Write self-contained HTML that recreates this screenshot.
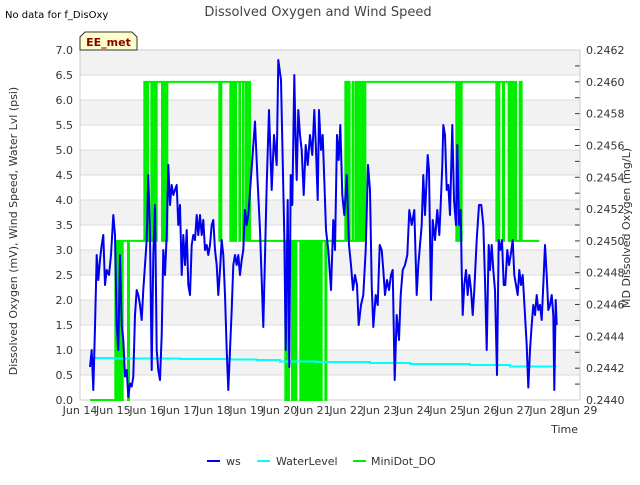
<!DOCTYPE html>
<html><head><meta charset="utf-8"><style>
body{margin:0;background:#fff;font-family:"Liberation Sans",sans-serif;}
svg text{font-family:"DejaVu Sans","Liberation Sans",sans-serif;}
</style></head><body>
<svg id="chart" width="640" height="480" viewBox="0 0 640 480" xmlns="http://www.w3.org/2000/svg">
<text x="5" y="18" font-size="10" fill="#000">No data for f_DisOxy</text>
<text x="318" y="16" font-size="13" fill="#444" text-anchor="middle">Dissolved Oxygen and Wind Speed</text>
<g id="plot"></g>
<g>
<path d="M80,50 L80,37 L85,32 L132,32 L137,37 L137,50 Z" fill="#ffffcc" stroke="#333" stroke-width="1"/>
<text x="108.5" y="46" font-size="11" font-weight="bold" fill="#8b0000" text-anchor="middle">EE_met</text>
</g>
<text transform="translate(17,231) rotate(-90)" font-size="11" fill="#333" text-anchor="middle">Dissolved Oxygen (mV), Wind Speed, Water Lvl (psi)</text>
<text transform="translate(630,228) rotate(-90)" font-size="11" fill="#333" text-anchor="middle">MD Dissolved Oxygen (mg/L)</text>
<text x="578" y="433" font-size="11" fill="#333" text-anchor="end">Time</text>
<g>
<g><line x1="207" y1="461" x2="220" y2="461" stroke="#0000ee" stroke-width="2"/><text x="226" y="465" font-size="11" fill="#333">ws</text></g>
<g><line x1="257" y1="461" x2="270" y2="461" stroke="#00ffff" stroke-width="2"/><text x="276" y="465" font-size="11" fill="#333">WaterLevel</text></g>
<g><line x1="353" y1="461" x2="366" y2="461" stroke="#00ee00" stroke-width="2"/><text x="371" y="465" font-size="11" fill="#333">MiniDot_DO</text></g>
</g>
</svg>
<script>
const xTickLabels=["Jun 14","Jun 15","Jun 16","Jun 17","Jun 18","Jun 19","Jun 20","Jun 21","Jun 22","Jun 23","Jun 24","Jun 25","Jun 26","Jun 27","Jun 28","Jun 29"];
const yLeftTicks=[0,0.5,1,1.5,2,2.5,3,3.5,4,4.5,5,5.5,6,6.5,7];
const yRightTicks=[0.2440,0.2442,0.2444,0.2446,0.2448,0.2450,0.2452,0.2454,0.2456,0.2458,0.2460,0.2462];
const wsT=[0.30,0.35,0.40,0.45,0.50,0.55,0.60,0.65,0.70,0.75,0.80,0.87,0.93,1.00,1.05,1.10,1.15,1.20,1.25,1.30,1.35,1.40,1.45,1.50,1.55,1.60,1.65,1.70,1.75,1.80,1.85,1.90,1.95,2.00,2.05,2.10,2.15,2.20,2.25,2.30,2.35,2.40,2.45,2.50,2.55,2.60,2.65,2.70,2.75,2.80,2.85,2.90,2.95,3.00,3.05,3.10,3.15,3.20,3.25,3.30,3.35,3.40,3.45,3.50,3.55,3.60,3.65,3.70,3.75,3.80,3.85,3.90,3.95,4.00,4.05,4.10,4.15,4.20,4.25,4.30,4.35,4.40,4.45,4.50,4.55,4.60,4.65,4.70,4.75,4.80,4.85,4.90,4.95,5.00,
5.05,5.25,5.32,5.40,5.50,5.60,5.67,5.75,5.82,5.90,5.95,6.03,6.08,6.13,6.17,6.23,6.28,6.32,6.37,6.43,6.47,6.50,6.55,6.60,6.65,6.71,6.77,6.83,6.90,6.97,7.03,7.08,7.13,7.17,7.23,7.28,7.33,7.38,7.45,7.53,7.60,7.65,7.71,7.76,7.81,7.87,7.93,8.00,8.07,8.13,8.19,8.25,8.31,8.36,8.43,8.50,8.57,8.64,8.70,8.75,8.80,8.87,8.93,8.99,9.05,9.10,9.15,9.21,9.27,9.33,9.38,9.44,9.50,9.57,9.62,9.68,9.75,9.82,9.88,9.95,
10.03,10.10,10.15,10.20,10.25,10.30,10.35,10.43,10.47,10.53,10.58,10.65,10.72,10.78,10.82,10.87,10.90,10.95,11.00,11.05,11.10,11.17,11.22,11.28,11.32,11.37,11.42,11.45,11.48,11.53,11.58,11.63,11.68,11.73,11.78,11.83,11.90,11.97,12.04,12.10,12.15,12.20,12.26,12.30,12.35,12.40,12.45,12.51,12.56,12.61,12.66,12.71,12.76,12.82,12.87,12.92,12.98,13.03,13.08,13.13,13.18,13.23,13.28,13.35,13.40,13.45,13.50,13.55,13.60,13.65,13.70,13.75,13.80,13.85,13.90,13.95,14.00,14.05,14.10,14.15,14.20,14.23,14.27,14.30];
const wsV=[0.66,1.0,0.2,1.46,2.9,2.4,2.8,3.1,3.3,2.3,2.6,2.5,2.9,3.7,3.3,1.5,1.0,2.9,1.5,1.2,0.47,0.6,0.06,0.33,0.27,0.47,1.7,2.2,2.1,1.9,1.6,2.2,2.7,3.2,4.5,3.3,0.6,2.9,3.9,1.0,0.6,0.4,1.3,3.0,2.5,3.3,4.7,3.9,4.3,4.1,4.2,4.3,3.5,3.9,2.5,3.3,2.7,3.4,2.3,2.1,3.1,3.3,3.2,3.7,3.3,3.7,3.3,3.6,3.0,3.1,2.9,3.1,3.5,3.6,3.0,2.7,2.1,2.6,3.2,2.9,2.1,1.0,0.2,1.0,1.8,2.7,2.9,2.7,2.9,2.5,2.8,3.0,3.8,3.5,
3.7,5.57,4.5,3.4,1.46,4.3,5.8,4.2,5.3,4.7,6.8,6.4,4.8,3.3,1.0,4.0,0.66,4.5,3.9,6.5,5.1,4.4,5.8,5.3,5.0,4.1,5.1,4.7,5.3,4.9,5.8,5.0,4.0,5.8,5.0,5.3,4.4,3.4,3.0,2.2,3.6,3.0,5.3,4.8,5.5,4.1,3.7,4.5,3.1,2.7,2.2,2.5,2.3,1.5,1.9,2.1,3.0,4.7,4.2,2.3,1.46,2.1,1.9,3.1,3.0,2.6,2.1,2.4,2.2,2.5,2.6,0.4,1.7,1.2,2.1,2.6,2.7,2.9,3.8,3.5,
3.8,2.1,2.7,3.1,3.5,4.5,3.7,4.9,4.6,2.0,3.6,3.2,3.8,3.3,3.9,4.7,5.5,5.3,4.2,4.3,3.7,5.5,4.0,3.5,5.1,3.5,3.8,2.6,1.7,2.3,2.6,2.1,2.5,2.2,1.7,2.2,3.2,3.9,3.9,3.5,2.4,1.0,3.1,2.6,3.1,2.6,2.2,0.5,3.2,3.0,3.2,2.3,2.3,3.0,2.7,2.9,3.2,2.5,2.3,2.1,2.6,2.3,2.5,1.7,1.1,0.25,1.0,1.5,1.9,1.7,2.1,1.8,1.9,1.6,2.3,3.1,2.5,1.8,1.9,2.1,1.7,0.2,2.0,1.5];
const wlT=[0.3,1.0,1.5,3.0,4.5,5.3,6.0,7.1,8.7,9.9,11.7,12.9,14.3];
const wlV=[0.84,0.83,0.83,0.82,0.81,0.80,0.77,0.76,0.74,0.72,0.70,0.67,0.67];
const doT=[0.3,1.05,1.06,1.08,1.10,1.12,1.15,1.17,1.20,1.22,1.26,1.28,1.43,1.44,1.46,1.47,1.92,1.93,1.96,1.98,2.02,2.04,2.13,2.14,2.16,2.20,2.23,2.28,2.30,2.45,2.46,2.50,2.53,2.57,2.60,2.62,4.17,4.18,4.23,4.24,4.50,4.51,4.55,4.59,4.62,4.64,4.68,4.77,4.78,4.80,4.88,4.89,4.91,4.97,4.98,5.00,5.05,5.08,5.10,6.15,6.16,6.20,6.23,6.27,6.35,6.36,6.40,6.43,6.49,6.60,6.61,6.65,6.68,6.72,6.75,6.80,6.83,6.86,6.88,6.90,6.93,6.97,7.00,7.04,7.08,7.12,7.17,7.19,7.23,7.25,7.35,7.36,7.39,7.95,7.96,8.00,8.06,8.09,8.18,8.21,8.28,8.30,8.32,8.35,8.38,8.40,8.43,8.45,8.48,8.50,8.52,8.55,8.56,11.28,11.29,11.31,11.33,11.35,11.37,11.40,11.42,11.45,12.48,12.49,12.52,12.55,12.58,12.68,12.69,12.72,12.85,12.86,12.88,12.92,12.95,12.98,13.00,13.04,13.06,13.08,13.18,13.19,13.24,13.25,13.78];
const doV=[0.2440,0.2440,0.2450,0.2440,0.2450,0.2440,0.2450,0.2440,0.2450,0.2440,0.2440,0.2450,0.2450,0.2440,0.2440,0.2450,0.2450,0.2460,0.2450,0.2460,0.2450,0.2460,0.2460,0.2450,0.2460,0.2450,0.2460,0.2450,0.2460,0.2460,0.2450,0.2460,0.2450,0.2460,0.2450,0.2460,0.2460,0.2450,0.2450,0.2460,0.2460,0.2450,0.2460,0.2450,0.2460,0.2450,0.2460,0.2460,0.2450,0.2460,0.2460,0.2450,0.2460,0.2460,0.2450,0.2460,0.2450,0.2460,0.2450,0.2450,0.2440,0.2450,0.2440,0.2450,0.2450,0.2440,0.2450,0.2440,0.2450,0.2450,0.2440,0.2450,0.2440,0.2450,0.2440,0.2450,0.2440,0.2450,0.2440,0.2450,0.2440,0.2450,0.2440,0.2450,0.2440,0.2450,0.2440,0.2450,0.2440,0.2450,0.2450,0.2440,0.2450,0.2450,0.2460,0.2450,0.2460,0.2450,0.2460,0.2450,0.2460,0.2450,0.2460,0.2450,0.2460,0.2450,0.2460,0.2450,0.2460,0.2450,0.2460,0.2450,0.2460,0.2460,0.2450,0.2460,0.2450,0.2460,0.2450,0.2460,0.2450,0.2460,0.2460,0.2450,0.2460,0.2450,0.2460,0.2460,0.2450,0.2460,0.2460,0.2450,0.2460,0.2450,0.2460,0.2450,0.2460,0.2450,0.2460,0.2450,0.2450,0.2460,0.2460,0.2450,0.2450];

const L=80,R=580,T=50,B=400;
const xS=d=>L+d*(R-L)/15;
const yL=v=>B-v*(B-T)/7;
const yR=v=>B-(v-0.2440)*(B-T)/0.0022;
const NS="http://www.w3.org/2000/svg";
const plot=document.getElementById('plot');
function mk(tag,attrs,parent){const e=document.createElementNS(NS,tag);for(const k in attrs)e.setAttribute(k,attrs[k]);(parent||plot).appendChild(e);return e;}

mk('rect',{x:L,y:T,width:R-L,height:B-T,fill:'#fff'});
for(let i=0;i<yLeftTicks.length-1;i++){
  if(i%2===1){const b=mk('rect',{x:L,y:yL(yLeftTicks[i+1]),width:R-L,height:yL(yLeftTicks[i])-yL(yLeftTicks[i+1]),fill:'#f2f2f2'});
  
  }
}
yLeftTicks.forEach(v=>{
  const g=mk('line',{x1:L,x2:R,y1:yL(v),y2:yL(v),stroke:'#dcdcdc','stroke-width':1});
  
  
  const t=mk('text',{x:L-7,y:yL(v)+4,'font-size':11,fill:'#333','text-anchor':'end'});
  t.textContent=v.toFixed(1);
  
  
});
yRightTicks.forEach((v,i)=>{
  const tk=mk('line',{x1:R-5,x2:R,y1:yR(v),y2:yR(v),stroke:'#333','stroke-width':1});
  
  
  if(i<yRightTicks.length-1){const m=mk('line',{x1:R-5,x2:R,y1:yR(v+0.0001),y2:yR(v+0.0001),stroke:'#333','stroke-width':1});
  
  }
  const t=mk('text',{x:R+6,y:yR(v)+4,'font-size':11,fill:'#333'});
  t.textContent=v.toFixed(4);
  
  
});
xTickLabels.forEach((s,i)=>{
  const t=mk('text',{x:xS(i),y:414,'font-size':11,fill:'#333','text-anchor':'middle'});
  t.textContent=s;
  
  
});
mk('rect',{x:L,y:T,width:R-L,height:B-T,fill:'none',stroke:'#ccc','stroke-width':1});

let d='';
for(let i=0;i<doT.length;i++){const x=xS(doT[i]),y=yR(doV[i]);
  if(i===0)d+='M'+x+','+y;else d+=' H'+x+' V'+y;}
const doP=mk('path',{d:d,fill:'none',stroke:'#00ee00','stroke-width':2});



d='';
for(let i=0;i<wlT.length;i++){const x=xS(wlT[i]),y=yL(wlV[i]);
  if(i===0)d+='M'+x+','+y;else d+=' H'+x+' V'+y;}
const wlP=mk('path',{d:d,fill:'none',stroke:'#00ffff','stroke-width':2});



d=wsT.map((t,i)=>(i?'L':'M')+xS(t).toFixed(1)+','+yL(wsV[i]).toFixed(1)).join(' ');
const wsP=mk('path',{d:d,fill:'none',stroke:'#0000ee','stroke-width':2,'stroke-linejoin':'round'});


</script>
</body></html>
